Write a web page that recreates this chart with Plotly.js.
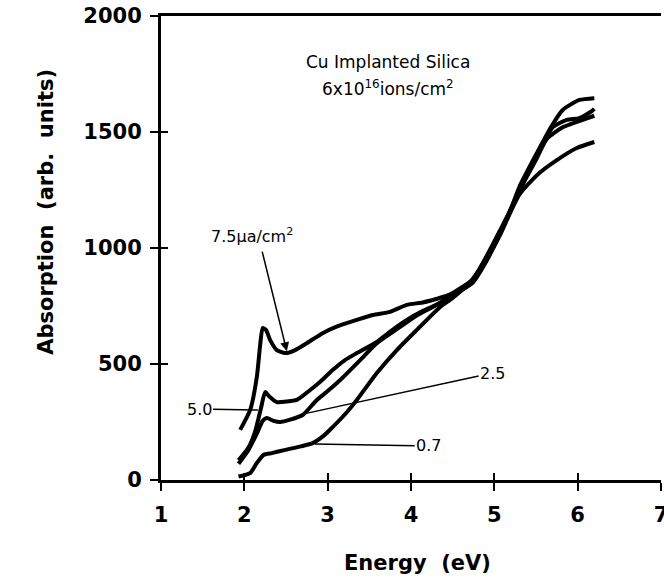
<!DOCTYPE html>
<html>
<head>
<meta charset="utf-8">
<script src="https://cdn.plot.ly/plotly-3.0.1.min.js"></script>
<style>html,body{margin:0;padding:0;background:#fff;}#chart{width:664px;height:581px;}</style>
</head>
<body>
<div id="chart"></div>
<script>
// Energy (eV) / Absorption (arb. units) for each implantation current density
const x75 = [1.95,2.07,2.15,2.19,2.22,2.26,2.31,2.39,2.49,2.61,2.75,2.94,3.10,3.35,3.54,3.75,3.95,4.14,4.30,4.47,4.74,4.90,5.06,5.20,5.30,5.51,5.66,5.82,6.02,6.20];
const y75 = [216,302,444,582,655,647,603,560,547,560,590,633,660,690,711,725,755,765,780,800,865,960,1070,1170,1263,1409,1509,1595,1638,1646];

const x50 = [1.93,2.05,2.13,2.20,2.25,2.30,2.39,2.50,2.63,2.79,2.90,3.06,3.20,3.35,3.59,3.75,3.95,4.15,4.35,4.47,4.74,4.90,5.06,5.30,5.50,5.70,5.87,6.02,6.17,6.20];
const y50 = [85,140,210,310,379,360,336,338,345,388,420,474,515,547,595,640,690,730,763,795,860,950,1060,1250,1390,1520,1552,1560,1590,1600];

const x25 = [1.93,2.05,2.15,2.22,2.27,2.35,2.43,2.55,2.70,2.87,2.99,3.15,3.39,3.59,3.87,4.05,4.26,4.47,4.74,4.90,5.06,5.30,5.50,5.63,5.82,6.00,6.20];
const y25 = [70,130,200,255,267,255,250,260,280,345,380,431,517,590,660,705,746,790,850,940,1055,1245,1380,1470,1520,1545,1570];

const x07 = [1.93,2.07,2.15,2.23,2.33,2.48,2.68,2.82,2.95,3.06,3.20,3.35,3.59,3.83,4.07,4.35,4.50,4.70,4.90,5.06,5.30,5.54,5.75,5.99,6.20];
const y07 = [15,30,73,108,116,129,145,159,190,228,280,345,461,560,647,746,785,849,945,1050,1230,1323,1379,1431,1457];

const xTicks = [1,2,3,4,5,6,7];
const yTicks = [0,500,1000,1500,2000];

const lineStyle = {color:'#000', width:4, shape:'spline', smoothing:0.6};
function curve(x, y, name){
  return {x:x, y:y, type:'scatter', mode:'lines', name:name, line:lineStyle, hoverinfo:'skip'};
}
const traces = [
  curve(x75, y75, '7.5'),
  curve(x50, y50, '5.0'),
  curve(x25, y25, '2.5'),
  curve(x07, y07, '0.7'),
  {x:[xTicks[0]], y:[yTicks[0]], xaxis:'x2', yaxis:'y2', type:'scatter', mode:'markers',
   marker:{opacity:0}, showlegend:false, hoverinfo:'skip'}
];

const tickFont = {family:'DejaVu Sans', size:21, color:'#000', weight:'bold'};

const layout = {
  width:664, height:581,
  margin:{l:161, r:3, t:16, b:101},
  paper_bgcolor:'#fff', plot_bgcolor:'#fff',
  showlegend:false,
  font:{family:'DejaVu Sans', color:'#000'},
  xaxis:{range:[1,7], tickvals:xTicks, ticktext:xTicks.map(String),
    showgrid:false, zeroline:false, showline:true, linecolor:'#000', linewidth:3,
    mirror:true, ticks:'outside', ticklen:8, tickwidth:2, tickcolor:'#000',
    tickfont:tickFont, ticklabelstandoff:6, ticklabeloverflow:'allow'},
  yaxis:{range:[0,2000], tickvals:yTicks, ticktext:yTicks.map(String),
    showgrid:false, zeroline:false, showline:true, linecolor:'#000', linewidth:3,
    ticks:'outside', ticklen:8, tickwidth:2, tickcolor:'#000',
    tickfont:tickFont, ticklabelstandoff:4},
  xaxis2:{range:[1,7], overlaying:'x', anchor:'y2', side:'bottom', tickvals:xTicks, showticklabels:false,
    showgrid:false, zeroline:false, showline:false, ticks:'inside', ticklen:7, tickwidth:2, tickcolor:'#000'},
  yaxis2:{range:[0,2000], overlaying:'y', anchor:'x2', side:'left', tickvals:yTicks, showticklabels:false,
    showgrid:false, zeroline:false, showline:false, ticks:'inside', ticklen:7, tickwidth:2, tickcolor:'#000'},
  annotations:[
    {xref:'paper', yref:'paper', x:-0.258, y:0.578, text:'Absorption&nbsp; (arb.&nbsp; units)', textangle:-90,
     showarrow:false, font:{family:'DejaVu Sans', size:21, color:'#000', weight:'bold'}},
    {xref:'paper', yref:'paper', x:0.512, y:-0.178, yanchor:'middle', text:'Energy&nbsp; (eV)',
     showarrow:false, font:{family:'DejaVu Sans', size:21, color:'#000', weight:'bold'}},
    {x:3.72, y:1802, text:'Cu Implanted Silica', showarrow:false, font:{family:'DejaVu Sans', size:17, color:'#000'}},
    {x:3.72, y:1690, text:'6x10<sup>16</sup>ions/cm<sup>2</sup>', showarrow:false, font:{family:'DejaVu Sans', size:17, color:'#000'}},
    {x:2.09, y:1052, text:'7.5\u00b5a/cm<sup>2</sup>', showarrow:false, font:{family:'DejaVu Sans', size:16, color:'#000'}},
    {x:2.51, y:555, ax:2.21, ay:991, axref:'x', ayref:'y', text:'', showarrow:true,
     arrowhead:2, arrowsize:1.2, arrowwidth:1.5, arrowcolor:'#000'},
    {x:2.163, y:302, ax:1.456, ay:306, axref:'x', ayref:'y', text:'5.0', showarrow:true,
     arrowhead:0, arrowwidth:1.5, arrowcolor:'#000', font:{family:'DejaVu Sans', size:16, color:'#000'}},
    {x:2.70, y:284, ax:4.98, ay:461, axref:'x', ayref:'y', text:'2.5', showarrow:true,
     arrowhead:0, arrowwidth:1.5, arrowcolor:'#000', font:{family:'DejaVu Sans', size:16, color:'#000'}},
    {x:2.847, y:155, ax:4.213, ay:147, axref:'x', ayref:'y', text:'0.7', showarrow:true,
     arrowhead:0, arrowwidth:1.5, arrowcolor:'#000', font:{family:'DejaVu Sans', size:16, color:'#000'}}
  ]
};

Plotly.newPlot('chart', traces, layout, {displayModeBar:false, staticPlot:true});
</script>
</body>
</html>
